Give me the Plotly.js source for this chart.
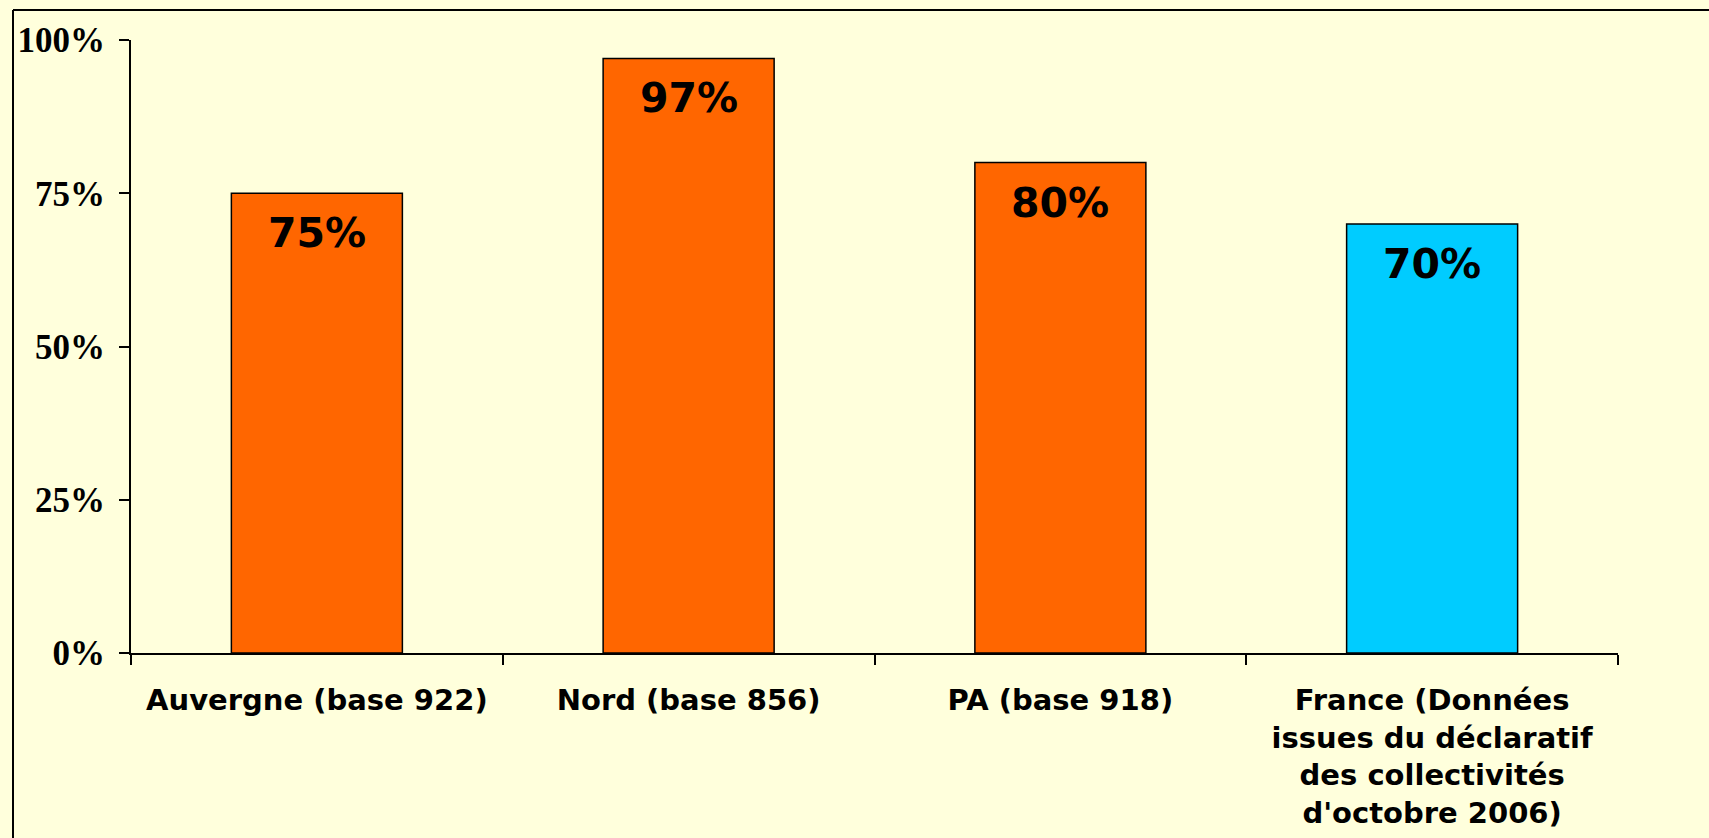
<!DOCTYPE html>
<html>
<head>
<meta charset="utf-8">
<script src="https://cdn.plot.ly/plotly-3.0.1.min.js"></script>
<style>
  html, body { margin: 0; padding: 0; background: #FFFFDC; }
  #chart { width: 1709px; height: 838px; }
</style>
</head>
<body>
<div id="chart"></div>
<script>
const categories = [
  "Auvergne (base 922)",
  "Nord (base 856)",
  "PA (base 918)",
  "France (Données<br>issues du déclaratif<br>des collectivités<br>d'octobre 2006)"
];
const values = [75, 97, 80, 70];
const barColors = ["#FF6600", "#FF6600", "#FF6600", "#00CCFF"];
const yTickVals = [0, 25, 50, 75, 100];
const yTickText = ["0%", "25%", "50%", "75%", "100%"];

const W = 1709, H = 838;
const margin = { l: 131, r: 91, t: 40, b: 185 };
const pw = W - margin.l - margin.r;
const ph = H - margin.t - margin.b;
const px = v => (v - margin.l) / pw;
const py = v => 1 - (v - margin.t) / ph;

const trace = {
  type: "bar",
  x: categories,
  y: values,
  width: 0.46,
  marker: { color: barColors, line: { color: "#000000", width: 1.5 } },
  hoverinfo: "skip"
};

const annotations = categories.map((c, i) => ({
  x: c,
  y: values[i],
  xref: "x",
  yref: "y",
  text: values[i] + "%",
  showarrow: false,
  yanchor: "top",
  xanchor: "center",
  yshift: -14,
  font: { family: "DejaVu Sans", size: 41, color: "#000000", weight: "bold" }
}));

const layout = {
  width: W,
  height: H,
  margin: margin,
  paper_bgcolor: "#FFFFDC",
  plot_bgcolor: "#FFFFDC",
  showlegend: false,
  bargap: 0.54,
  xaxis: {
    type: "category",
    range: [-0.5, 3.5],
    showline: true,
    linecolor: "#000000",
    linewidth: 2,
    ticks: "outside",
    tickson: "boundaries",
    ticklen: 10,
    tickwidth: 2,
    tickcolor: "#000000",
    showgrid: false,
    zeroline: false,
    ticklabelstandoff: 20,
    tickfont: { family: "DejaVu Sans", size: 29, color: "#000000", weight: "bold" },
    fixedrange: true
  },
  yaxis: {
    range: [0, 100],
    tickvals: yTickVals,
    ticktext: yTickText,
    showline: true,
    linecolor: "#000000",
    linewidth: 2,
    ticks: "outside",
    ticklen: 10,
    tickwidth: 2,
    tickcolor: "#000000",
    showgrid: false,
    zeroline: false,
    ticklabelstandoff: 7,
    tickfont: { family: "Liberation Serif", size: 35, color: "#000000", weight: "bold" },
    fixedrange: true
  },
  annotations: annotations,
  shapes: [
    { type: "line", xref: "paper", yref: "paper",
      x0: px(13), x1: px(W + 10), y0: py(10), y1: py(10),
      line: { color: "#000000", width: 2 } },
    { type: "line", xref: "paper", yref: "paper",
      x0: px(13), x1: px(13), y0: py(10), y1: py(H + 10),
      line: { color: "#000000", width: 2 } }
  ]
};

Plotly.newPlot("chart", [trace], layout, { displayModeBar: false, staticPlot: true });
</script>
</body>
</html>
